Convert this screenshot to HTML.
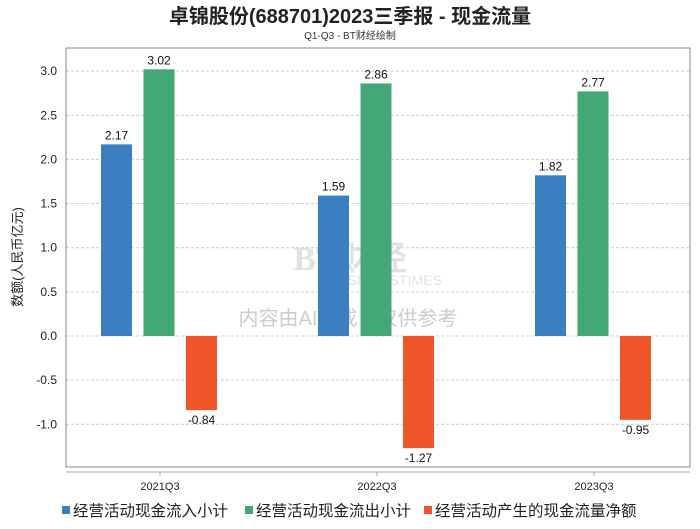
<!DOCTYPE html>
<html><head><meta charset="utf-8"><style>
body{margin:0;background:#fff;width:700px;height:524px;overflow:hidden;font-family:"Liberation Sans","Noto Sans CJK SC",sans-serif}
</style></head><body>
<svg id="chart" width="700" height="524" xmlns="http://www.w3.org/2000/svg">
<text x="350" y="23" text-anchor="middle" font-size="20" font-weight="bold" fill="#222" font-family="Liberation Sans,Noto Sans CJK SC,sans-serif">卓锦股份(688701)2023三季报 - 现金流量</text>
<text x="350" y="39" text-anchor="middle" font-size="10" fill="#333" font-family="Liberation Sans,Noto Sans CJK SC,sans-serif">Q1-Q3 - BT财经绘制</text>
<g opacity="0.15">
<text x="350" y="270" text-anchor="middle" font-size="34" font-weight="bold" fill="#345" font-family="Liberation Serif,serif">BT财经</text>
<text x="385" y="285" text-anchor="middle" font-size="14" fill="#345">BUSINESSTIMES</text>
</g>
<text x="348" y="325" text-anchor="middle" font-size="20" fill="#ccc" font-family="Liberation Sans,Noto Sans CJK SC,sans-serif">内容由AI生成，仅供参考</text>
<g id="grid"></g>
<rect x="66" y="48" width="624" height="419" fill="none" stroke="#888"/>
<line x1="66" y1="472" x2="690" y2="472" stroke="#aaa"/>
<g id="bars"></g>
<text transform="translate(22,257) rotate(-90)" text-anchor="middle" font-size="13" fill="#222" font-family="Liberation Sans,Noto Sans CJK SC,sans-serif">数额(人民币亿元)</text>
<g id="legend"></g>
</svg>
<script>
const categories=["2021Q3","2022Q3","2023Q3"];
const inflow=[2.17,1.59,1.82];
const outflow=[3.02,2.86,2.77];
const net=[-0.84,-1.27,-0.95];
const yTicks=[-1.0,-0.5,0.0,0.5,1.0,1.5,2.0,2.5,3.0];
const seriesNames=["经营活动现金流入小计","经营活动现金流出小计","经营活动产生的现金流量净额"];
const colors=["#3a7fc0","#44a876","#ef5528"];
const NS="http://www.w3.org/2000/svg";
const y0=336,scale=88.3;
function yS(v){return y0-v*scale;}
function xC(i){return 160+i*217;}
function mk(t,a,p){const e=document.createElementNS(NS,t);for(const k in a)e.setAttribute(k,a[k]);p.appendChild(e);return e;}
const grid=document.getElementById('grid');
yTicks.forEach(t=>{
 const l=mk('line',{x1:66,x2:690,y1:yS(t),y2:yS(t),stroke:'#ccc','stroke-dasharray':'3,2'},grid);
 
 
 const tx=mk('text',{x:57,y:yS(t)+4,'text-anchor':'end','font-size':12,fill:'#222'},grid);
 tx.textContent=t.toFixed(1);
 
 
});
const bars=document.getElementById('bars');
const series=[inflow,outflow,net];
categories.forEach((c,i)=>{
 const tk=mk('line',{x1:xC(i),x2:xC(i),y1:472,y2:476,stroke:'#aaa'},bars);
 
 
 const ct=mk('text',{x:xC(i),y:490,'text-anchor':'middle','font-size':11,fill:'#222'},bars);
 ct.textContent=c;
 
 
 series.forEach((s,j)=>{
  const v=s[i];const x=xC(i)-59+j*42.5;const w=31;
  const top=Math.min(yS(v),y0),h=Math.abs(yS(v)-y0);
  const r=mk('rect',{x:x,y:top,width:w,height:h,fill:colors[j]},bars);
  
  
  const lt=mk('text',{x:x+w/2,y:v>=0?yS(v)-5:yS(v)+14,'text-anchor':'middle','font-size':12,fill:'#111'},bars);
  lt.textContent=v.toFixed(2);
  
  
 });
});
const lg=document.getElementById('legend');
const lx=[62,245,424];
seriesNames.forEach((n,j)=>{
 const sw=mk('rect',{x:lx[j],y:506,width:8,height:8,fill:colors[j]},lg);
 
 
 const t=mk('text',{x:lx[j]+11,y:516,'font-size':15.5,fill:'#222','font-family':'Liberation Sans,Noto Sans CJK SC,sans-serif'},lg);
 t.textContent=n;
 
 
});
</script>
</body></html>
